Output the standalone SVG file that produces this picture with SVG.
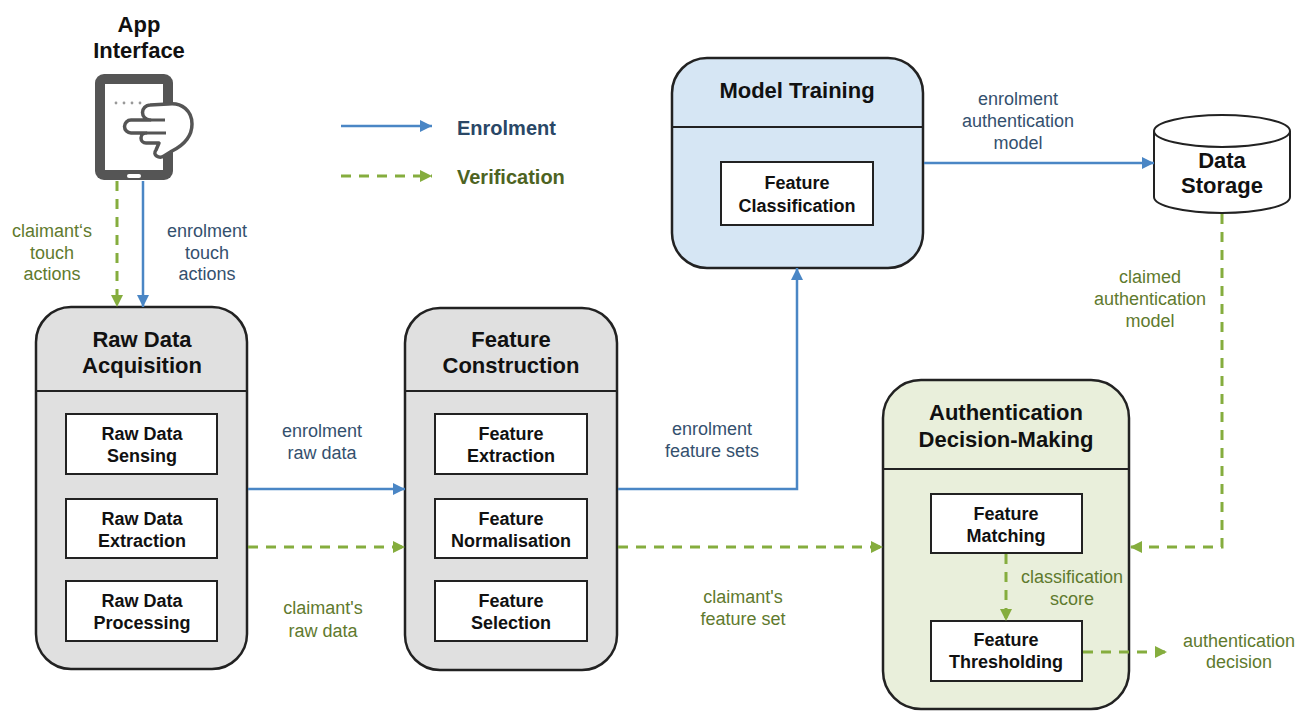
<svg xmlns="http://www.w3.org/2000/svg" width="1299" height="712" viewBox="0 0 1299 712">
<style>
.title{font-family:"Liberation Sans",Arial,sans-serif;font-weight:bold;font-size:22px;fill:#111;text-anchor:middle}
.inner{font-family:"Liberation Sans",Arial,sans-serif;font-weight:bold;font-size:18px;fill:#111;text-anchor:middle}
.lblB{font-family:"Liberation Sans",Arial,sans-serif;font-size:18px;fill:#34506e;text-anchor:middle}
.lblG{font-family:"Liberation Sans",Arial,sans-serif;font-size:18px;fill:#5f7a2e;text-anchor:middle}
.box{stroke:#222;stroke-width:2.5}
.ibox{fill:#fff;stroke:#222;stroke-width:2}
.div{stroke:#222;stroke-width:2}
.blue{fill:none;stroke:#4a86c5;stroke-width:2.5;marker-end:url(#ab)}
.green{fill:none;stroke:#85ad3e;stroke-width:3;stroke-dasharray:10 8;marker-end:url(#ag)}
</style>
<defs>
<marker id="ab" markerUnits="userSpaceOnUse" markerWidth="14" markerHeight="14" refX="12" refY="6" orient="auto"><path d="M0,0 L12,6 L0,12 Z" fill="#4a86c5"/></marker>
<marker id="ag" markerUnits="userSpaceOnUse" markerWidth="14" markerHeight="14" refX="12" refY="6" orient="auto"><path d="M0,0 L12,6 L0,12 Z" fill="#85ad3e"/></marker>
</defs>
<rect width="1299" height="712" fill="#fff"/>

<g id="legend">
<line x1="341" y1="126" x2="432" y2="126" class="blue"/>
<line x1="341" y1="176" x2="432" y2="176" class="green"/>
<text x="457" y="135" font-family="Liberation Sans,Arial,sans-serif" font-weight="bold" font-size="20" fill="#2a4766">Enrolment</text>
<text x="457" y="184" font-family="Liberation Sans,Arial,sans-serif" font-weight="bold" font-size="20" fill="#4d6322">Verification</text>
</g>

<g id="app-interface">
<text class="title" x="139" y="32">App</text>
<text class="title" x="139" y="58">Interface</text>
<rect x="95" y="74" width="78" height="106" rx="9" fill="#555"/>
<rect x="105" y="84" width="58" height="86" fill="#fff"/>
<rect x="127" y="174" width="14" height="4" rx="2" fill="#fff"/>
<g fill="#999"><circle cx="116" cy="103" r="1.4"/><circle cx="124" cy="103" r="1.4"/><circle cx="132" cy="103" r="1.4"/><circle cx="140" cy="103" r="1.4"/></g>
<path d="M150 105 L168 104 C182 102 192 111 192 124 C192 137 184 145 172 151 L164 156 C159 159 152 155 156 150 L159 143 L146 143 A5 5 0 0 1 146 133 L131 133 A6.5 6.5 0 0 1 131 120 L150 120 A7.5 7.5 0 0 1 150 105 Z" fill="#fff" stroke="#555" stroke-width="3.5" stroke-linejoin="round"/>
<path d="M150 120 L165 120 M146 133 L166 133" fill="none" stroke="#555" stroke-width="3"/>
</g>

<g id="raw-data-acquisition">
<rect class="box" x="36" y="307" width="211" height="362" rx="35" fill="#e0e0e0"/>
<line class="div" x1="36" y1="391" x2="247" y2="391"/>
<text class="title" x="142" y="347">Raw Data</text>
<text class="title" x="142" y="373">Acquisition</text>
<rect class="ibox" x="66" y="414" width="151" height="60"/>
<text class="inner" x="142" y="440">Raw Data</text>
<text class="inner" x="142" y="462">Sensing</text>
<rect class="ibox" x="66" y="499" width="151" height="59"/>
<text class="inner" x="142" y="525">Raw Data</text>
<text class="inner" x="142" y="547">Extraction</text>
<rect class="ibox" x="66" y="581" width="151" height="60"/>
<text class="inner" x="142" y="607">Raw Data</text>
<text class="inner" x="142" y="629">Processing</text>
</g>

<g id="feature-construction">
<rect class="box" x="405" y="308" width="212" height="362" rx="35" fill="#e0e0e0"/>
<line class="div" x1="405" y1="391" x2="617" y2="391"/>
<text class="title" x="511" y="347">Feature</text>
<text class="title" x="511" y="373">Construction</text>
<rect class="ibox" x="435" y="414" width="152" height="60"/>
<text class="inner" x="511" y="440">Feature</text>
<text class="inner" x="511" y="462">Extraction</text>
<rect class="ibox" x="435" y="499" width="152" height="59"/>
<text class="inner" x="511" y="525">Feature</text>
<text class="inner" x="511" y="547">Normalisation</text>
<rect class="ibox" x="435" y="581" width="152" height="60"/>
<text class="inner" x="511" y="607">Feature</text>
<text class="inner" x="511" y="629">Selection</text>
</g>

<g id="model-training">
<rect class="box" x="672" y="58" width="251" height="210" rx="35" fill="#d6e6f4"/>
<line class="div" x1="672" y1="127" x2="923" y2="127"/>
<text class="title" x="797" y="98">Model Training</text>
<rect class="ibox" x="721" y="162" width="152" height="63"/>
<text class="inner" x="797" y="189">Feature</text>
<text class="inner" x="797" y="212">Classification</text>
</g>

<g id="data-storage">
<path d="M1154 131 L1154 197 A68 16 0 0 0 1290 197 L1290 131" fill="#fff" stroke="#222" stroke-width="2"/>
<ellipse cx="1222" cy="131" rx="68" ry="16" fill="#fff" stroke="#222" stroke-width="2"/>
<text class="title" x="1222" y="168">Data</text>
<text class="title" x="1222" y="193">Storage</text>
</g>

<g id="authentication-decision-making">
<rect class="box" x="883" y="380" width="246" height="329" rx="38" fill="#e9efdb"/>
<line class="div" x1="883" y1="469" x2="1129" y2="469"/>
<text class="title" x="1006" y="420">Authentication</text>
<text class="title" x="1006" y="447">Decision-Making</text>
<rect class="ibox" x="931" y="494" width="151" height="59"/>
<text class="inner" x="1006" y="520">Feature</text>
<text class="inner" x="1006" y="542">Matching</text>
<rect class="ibox" x="931" y="621" width="151" height="60"/>
<text class="inner" x="1006" y="646">Feature</text>
<text class="inner" x="1006" y="668">Thresholding</text>
</g>

<g id="connectors">
<path class="green" d="M117 181 V307"/>
<path class="blue" d="M143 181 V307"/>
<path class="blue" d="M248 489 H405"/>
<path class="green" d="M248 547 H405"/>
<path class="blue" d="M618 489 H797 V268"/>
<path class="green" d="M618 547 H883"/>
<path class="blue" d="M924 163 H1154"/>
<path class="green" d="M1222 214 V547 H1130"/>
<path class="green" d="M1006 554 V621"/>
<path class="green" d="M1083 652 H1167"/>
</g>

<g id="labels">
<text class="lblG" x="52" y="237">claimant‘s</text>
<text class="lblG" x="52" y="259">touch</text>
<text class="lblG" x="52" y="280">actions</text>
<text class="lblB" x="207" y="237">enrolment</text>
<text class="lblB" x="207" y="259">touch</text>
<text class="lblB" x="207" y="280">actions</text>
<text class="lblB" x="322" y="437">enrolment</text>
<text class="lblB" x="322" y="459">raw data</text>
<text class="lblG" x="323" y="614">claimant's</text>
<text class="lblG" x="323" y="637">raw data</text>
<text class="lblB" x="712" y="435">enrolment</text>
<text class="lblB" x="712" y="457">feature sets</text>
<text class="lblG" x="743" y="603">claimant's</text>
<text class="lblG" x="743" y="625">feature set</text>
<text class="lblB" x="1018" y="105">enrolment</text>
<text class="lblB" x="1018" y="127">authentication</text>
<text class="lblB" x="1018" y="149">model</text>
<text class="lblG" x="1150" y="283">claimed</text>
<text class="lblG" x="1150" y="305">authentication</text>
<text class="lblG" x="1150" y="327">model</text>
<text class="lblG" x="1072" y="583">classification</text>
<text class="lblG" x="1072" y="605">score</text>
<text class="lblG" x="1239" y="647">authentication</text>
<text class="lblG" x="1239" y="668">decision</text>
</g>
</svg>
